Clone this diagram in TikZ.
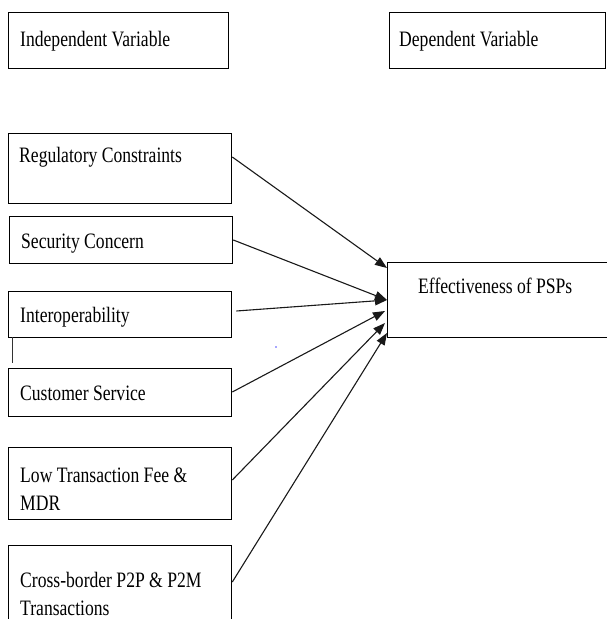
\documentclass[tikz,border=0pt]{standalone}
\usepackage{fontspec}
\setmainfont[FakeStretch=0.8]{Liberation Serif}
\usetikzlibrary{arrows.meta}
\begin{document}
\begin{tikzpicture}[x=1pt,y=-1pt,
  box/.style={draw=black, line width=1.3pt, rectangle, inner sep=0pt, anchor=north west},
  lbl/.style={anchor=base west, inner sep=0pt, font=\fontsize{22}{28}\selectfont, align=left},
  conn/.style={draw=black!90, line width=1.1pt, -{Triangle[length=12pt,width=9pt]}}]
\useasboundingbox (0,0) rectangle (607,619);
% header boxes
\node[box, minimum width=220pt, minimum height=56pt] (ivbox) at (8,12) {};
\node[lbl] (ivtxt) at (20,46) {Independent Variable};
\node[box, minimum width=216pt, minimum height=56pt] (dvbox) at (389,12) {};
\node[lbl] (dvtxt) at (399,46) {Dependent Variable};
% independent boxes
\node[box, minimum width=223pt, minimum height=70pt] (reg) at (8,133) {};
\node[lbl] (regtxt) at (19,162) {Regulatory Constraints};
\node[box, minimum width=223pt, minimum height=47pt] (sec) at (9,216) {};
\node[lbl] (sectxt) at (21,248) {Security Concern};
\node[box, minimum width=223pt, minimum height=46pt] (intop) at (8,291) {};
\node[lbl] (intoptxt) at (20,322) {Interoperability};
\node[box, minimum width=223pt, minimum height=48pt] (cust) at (8,368) {};
\node[lbl] (custtxt) at (20,400) {Customer Service};
\node[box, minimum width=223pt, minimum height=72pt] (fee) at (8,447) {};
\node[lbl] (feetxt) at (20,510) {Low Transaction Fee \&\\MDR};
\node[box, minimum width=223pt, minimum height=90pt] (cross) at (8,545) {};
\node[lbl] (crosstxt) at (20,615) {Cross-border P2P \& P2M\\Transactions};
% dependent box
\node[box, minimum width=225pt, minimum height=75pt] (eff) at (387,262) {};
\node[lbl] (efftxt) at (418,293) {Effectiveness of PSPs};
% stray marks
\coordinate (m1) at (12,337);
\coordinate (m2) at (12,363);
\draw[line width=0.8pt, black!80] (m1) -- (m2);
\fill[blue!70] (276,347) circle (0.9pt);
% connectors
\draw[conn] (reg.east |- 0,157) -- (eff.west |- 0,268);
\draw[conn] (sec.east |- 0,240) -- (eff.west |- 0,300);
\draw[conn] ([xshift=4pt]intop.east |- 0,311) -- (eff.west |- 0,300);
\draw[conn] (cust.east |- 0,392) -- ([xshift=-2pt]eff.west |- 0,311);
\draw[conn] (fee.east |- 0,480) -- ([xshift=-2pt]eff.west |- 0,323);
\draw[conn] (cross.east |- 0,582) -- (eff.west |- 0,333);
\end{tikzpicture}
\end{document}
